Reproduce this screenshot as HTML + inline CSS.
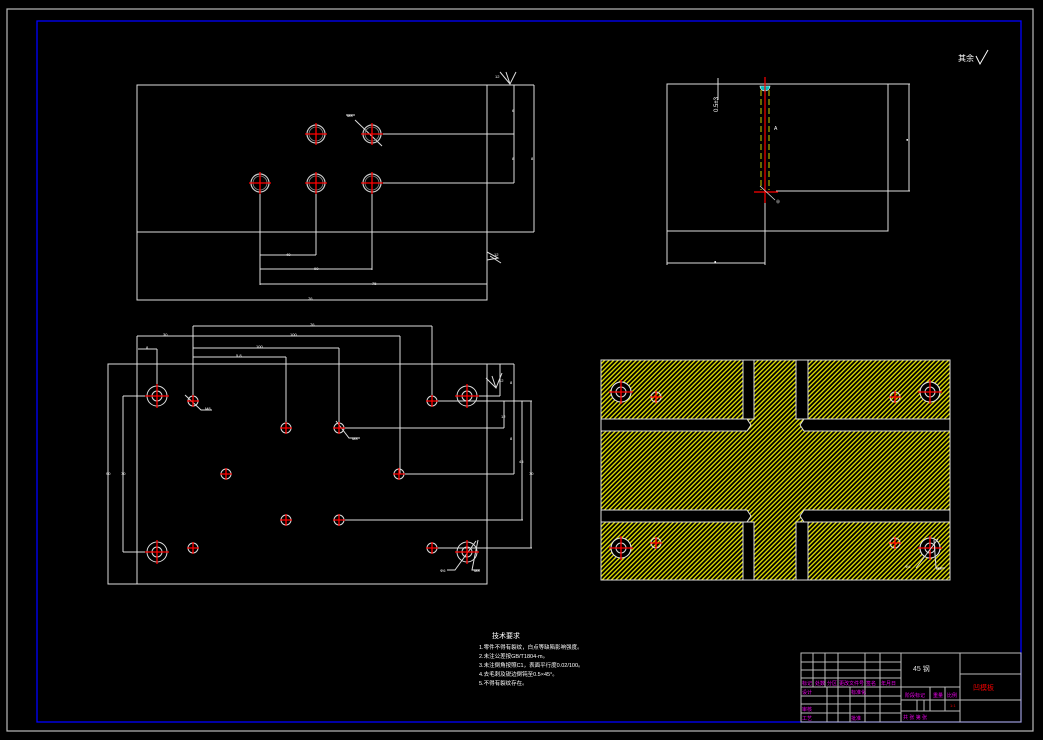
<!DOCTYPE html>
<html><head><meta charset="utf-8"><style>
html,body{margin:0;padding:0;background:#000;}
svg{display:block;}
text{font-family:"Liberation Sans","Noto Sans CJK SC",sans-serif;}
</style></head><body>
<svg width="1043" height="740" viewBox="0 0 1043 740" xmlns="http://www.w3.org/2000/svg">
<defs>
<pattern id="h" width="3.2" height="3.2" patternUnits="userSpaceOnUse" patternTransform="rotate(45)">
<rect width="3.2" height="3.2" fill="#000"/>
<rect width="1.4" height="3.2" fill="#d8d800"/>
</pattern>
<g id="hole"><circle r="9" fill="none" stroke="#ccc" stroke-width="1.2"/><circle r="7" fill="none" stroke="#888" stroke-width="0.8"/><path d="M-11 0H11M0-11V11" stroke="#f00" stroke-width="1.3"/></g>
<g id="big"><circle r="10" fill="none" stroke="#ddd" stroke-width="1"/><circle r="5" fill="none" stroke="#ddd" stroke-width="1"/><path d="M-12 0H12M0-12V12" stroke="#f00" stroke-width="1.3"/></g>
<g id="sm"><circle r="5" fill="none" stroke="#ddd" stroke-width="1"/><path d="M-6 0H6M0-6V6" stroke="#f00" stroke-width="1.3"/></g>
</defs>
<rect x="0" y="0" width="1043" height="740" fill="#000"/>
<rect x="7" y="9" width="1026" height="722" fill="none" stroke="#bbb" stroke-width="1.2"/>
<rect x="37" y="21" width="984" height="701" fill="none" stroke="#00f" stroke-width="1.3"/>

<g stroke="#ddd" stroke-width="1" fill="none">
<!-- top-left view -->
<rect x="137" y="85" width="350" height="215"/>
<path d="M137 232H487M487 85H534M534 85V232M487 232H534M514 85V183M383 134H514M383 183H514"/>
<path d="M260 192V285M316 192V255M372 192V270M260 255H316M260 269H372M260 284H487M137 300H487"/>
<path d="M355 120L382 146M346 115H355"/>
<path d="M500 72L510 84L516 72M510 84L506 72" />
<path d="M487 252L498 258L487 260M490 256L501 263"/>
</g>
<g fill="#fff" font-size="4">
<text x="495" y="78">12</text><text x="512" y="112">6</text><text x="512" y="160">8</text><text x="531" y="160">8</text>
<text x="286" y="256">40</text><text x="314" y="270">90</text><text x="372" y="285">75</text><text x="308" y="300">76</text><text x="347" y="117">M8</text><text x="494" y="256">12</text>
</g>
<use href="#hole" x="316" y="134"/><use href="#hole" x="372" y="134"/>
<use href="#hole" x="260" y="183"/><use href="#hole" x="316" y="183"/><use href="#hole" x="372" y="183"/>

<!-- bottom-left view -->
<g stroke="#ddd" stroke-width="1" fill="none">
<rect x="108" y="364" width="379" height="220"/>
<path d="M137 336V584M487 364H514M514 364V474"/>
<path d="M193 326H432M193 326V401M432 326V401M137 336H193M193 336H400M400 336V474M193 348H339M339 348V428M193 357H286M286 357V428M138 349H157M157 349V396"/>
<path d="M467 396H500M500 364V396M432 401H532M339 428H504M504 401V428M400 474H514M339 520H523M522 401V520M432 548H532M531 401V548"/>
<path d="M123 396V552M123 396H157M123 552H157"/>
<path d="M185 395L201 410H212M336 421L349 438H360M486 378L496 388L502 373M496 388L492 376"/>
<path d="M476 541L455 570H447M478 540L472 570H480"/>
</g>
<g fill="#fff" font-size="4">
<text x="163" y="336">30</text><text x="310" y="326">76</text><text x="290" y="336">100</text><text x="256" y="348">100</text><text x="236" y="357">5.8</text><text x="146" y="349">8</text>
<text x="205" y="410">M8</text><text x="352" y="440">M8</text><text x="440" y="572">Φ6</text><text x="474" y="572">M8</text>
<text x="106" y="475">90</text><text x="121" y="475">70</text><text x="499" y="382">12</text><text x="510" y="384">8</text><text x="501" y="418">12</text><text x="510" y="440">8</text><text x="519" y="463">45</text><text x="529" y="475">70</text>
</g>
<use href="#big" x="157" y="396"/><use href="#big" x="467" y="396"/><use href="#big" x="157" y="552"/><use href="#big" x="467" y="552"/>
<use href="#sm" x="193" y="401"/><use href="#sm" x="286" y="428"/><use href="#sm" x="339" y="428"/><use href="#sm" x="226" y="474"/><use href="#sm" x="399" y="474"/><use href="#sm" x="286" y="520"/><use href="#sm" x="339" y="520"/><use href="#sm" x="193" y="548"/><use href="#sm" x="432" y="401"/><use href="#sm" x="432" y="548"/>

<!-- top-right view -->
<g stroke="#ddd" stroke-width="1" fill="none">
<rect x="667" y="84" width="221" height="147"/>
<path d="M888 84H910M909 84V191M776 191H910M667 231V265M765 191V265M667 263H765M718 78V100"/>
</g>
<path d="M760 86A5 5 0 0 0 770 86Z" fill="#0bb" stroke="#fff" stroke-width="0.6"/>
<path d="M761 90V190M769 90V190" stroke="#cc0" stroke-width="1" stroke-dasharray="6 3"/>
<path d="M765 77V203M754 192H778" stroke="#f00" stroke-width="1.2"/>
<path d="M760 186L775 200" stroke="#ddd" stroke-width="0.8"/>
<g fill="#fff" font-size="5">
<text x="774" y="130">A</text>
<text x="906" y="141" font-size="4">●</text><text x="714" y="263" font-size="4">●</text><text x="776" y="203" font-size="4">⊕</text>
<text transform="translate(718,112) rotate(-90)" font-size="6">0.5±3</text>
<text x="958" y="61" font-size="8">其余</text>
</g>
<path d="M976 56L980 64L988 50" stroke="#fff" fill="none" stroke-width="1"/>

<!-- hatched section -->
<rect x="601" y="360" width="349" height="220" fill="url(#h)" stroke="#ddd" stroke-width="1"/>
<g fill="#000" stroke="#ddd" stroke-width="1">
<path d="M601 419H747L751 425L747 431H601Z"/>
<path d="M950 419H804L800 425L804 431H950Z"/>
<path d="M601 510H747L751 516L747 522H601Z"/>
<path d="M950 510H804L800 516L804 522H950Z"/>
<path d="M743 360V419H754V360Z"/>
<path d="M796 360V419H808V360Z"/>
<path d="M743 580V522H754V580Z"/>
<path d="M796 580V522H808V580Z"/>
</g>
<g><circle cx="621" cy="392" r="10" fill="#000" stroke="#ddd"/><use href="#big" x="621" y="392"/>
<circle cx="930" cy="392" r="10" fill="#000" stroke="#ddd"/><use href="#big" x="930" y="392"/>
<circle cx="621" cy="548" r="10" fill="#000" stroke="#ddd"/><use href="#big" x="621" y="548"/>
<circle cx="930" cy="548" r="10" fill="#000" stroke="#ddd"/><use href="#big" x="930" y="548"/>
<use href="#sm" x="656" y="397"/><use href="#sm" x="895" y="397"/><use href="#sm" x="656" y="543"/><use href="#sm" x="895" y="543"/></g>
<path d="M938 539L916 568M934 540L936 568H945" stroke="#ddd" fill="none"/>
<g fill="#fff" font-size="4"><text x="905" y="568">Φ6</text><text x="936" y="570">M8</text></g>

<!-- technical requirements -->
<g fill="#fff" font-size="5.5">
<text x="492" y="638" font-size="7">技术要求</text>
<text x="479" y="649">1.零件不得有裂纹，白点等缺陷影响强度。</text>
<text x="479" y="658">2.未注公差按GB/T1804-m。</text>
<text x="479" y="667">3.未注倒角按照C1，表面平行度0.02/100。</text>
<text x="479" y="676">4.去毛刺及锐边倒钝至0.5×45°。</text>
<text x="479" y="685">5.不得有裂纹存在。</text>
</g>

<!-- title block -->
<g stroke="#bbb" stroke-width="1" fill="none">
<rect x="801" y="653" width="220" height="69"/>
<path d="M901 653V722M960 653V722M960 674H1021M960 700H1021"/>
<path d="M801 662H901M801 670H901M801 678H901M801 687H901M901 687H960M801 696H901M901 700H960M801 704H901M801 713H901M901 711H960"/>
<path d="M813 653V687M825 653V687M838 653V722M865 653V722M880 653V722"/>
<path d="M827 687V722M850 687V722M930 687V711M945 687V711M917 700V711M924 700V711"/>
</g>
<g font-size="5" fill="#e0e">
<text x="802" y="685">标记</text><text x="815" y="685">处数</text><text x="827" y="685">分区</text><text x="839" y="685">更改文件号</text><text x="866" y="685">签名</text><text x="881" y="685">年月日</text>
<text x="802" y="694">设计</text><text x="851" y="694">标准化</text><text x="802" y="711">审核</text><text x="802" y="720">工艺</text><text x="851" y="720">批准</text>
<text x="905" y="697">阶段标记</text><text x="933" y="697">重量</text><text x="947" y="697">比例</text>
<text x="903" y="719">共 张 第 张</text>
</g>
<text x="913" y="671" fill="#ddd" font-size="7">45 钢</text>
<text x="973" y="690" fill="#e00" font-size="7">凹模板</text>
<text x="950" y="707" fill="#e00" font-size="4">1:1</text>
</svg>
</body></html>
